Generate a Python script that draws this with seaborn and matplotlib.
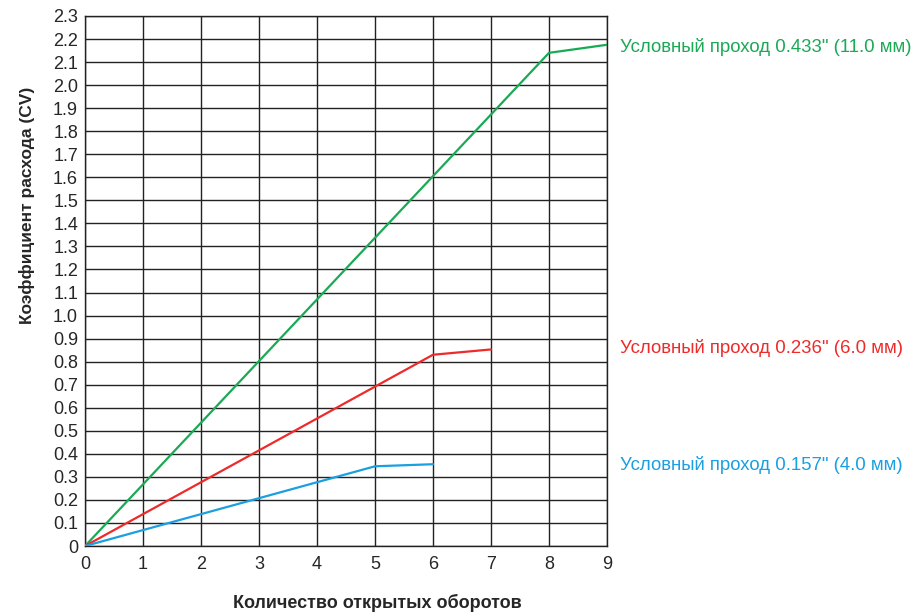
import numpy as np
import pandas as pd
import matplotlib
matplotlib.use("Agg")
import matplotlib.pyplot as plt
import seaborn as sns

# Данные
turns_11 = [0, 8, 9]
cv_11 = [0, 2.14, 2.175]
turns_6 = [0, 6, 7]
cv_6 = [0, 0.83, 0.853]
turns_4 = [0, 5, 6]
cv_4 = [0, 0.346, 0.355]

labels = [
    'Условный проход 0.433" (11.0 мм)',
    'Условный проход 0.236" (6.0 мм)',
    'Условный проход 0.157" (4.0 мм)',
]
colors = ["#1aa955", "#ee2a2a", "#1a9fe0"]

sns.set_style("white")
plt.rcParams["font.family"] = ["Liberation Sans", "DejaVu Sans"]

df = pd.concat([
    pd.DataFrame({"x": turns_11, "y": cv_11, "s": labels[0]}),
    pd.DataFrame({"x": turns_6, "y": cv_6, "s": labels[1]}),
    pd.DataFrame({"x": turns_4, "y": cv_4, "s": labels[2]}),
])

fig = plt.figure(figsize=(9.15, 6.14), dpi=100)
ax = fig.add_axes([0.0929, 0.1107, 0.5705, 0.8633])

sns.lineplot(data=df, x="x", y="y", hue="s", palette=dict(zip(labels, colors)),
             legend=False, linewidth=1.6, ax=ax, zorder=3)

ax.set_xlim(0, 9)
ax.set_ylim(0, 2.3)
ax.set_xticks(range(0, 10))
yt = np.round(np.arange(0, 2.31, 0.1), 1)
ax.set_yticks(yt)
ax.set_yticklabels(["0"] + [f"{v:.1f}" for v in yt[1:]])
ax.grid(True, color="#222222", linewidth=1.0)
for s in ax.spines.values():
    s.set_color("#222222")
    s.set_linewidth(1.0)
ax.tick_params(axis="both", labelsize=13, length=0)
ax.tick_params(axis="y", pad=5)
ax.tick_params(axis="x", pad=7)

ax.set_xlabel("Количество открытых оборотов", fontsize=13, fontweight="bold")
ax.set_ylabel("Коэффициент расхода (CV)", fontsize=12.5, fontweight="bold")
ax.xaxis.set_label_coords(0.561, -0.09)
ax.yaxis.set_label_coords(-0.096, 0.643)

# подписи серий справа
last_vals = [cv_11[-1], cv_6[-1], cv_4[-1]]
offsets = [-0.01, 0.006, -0.003]
for lab, c, v, o in zip(labels, colors, last_vals, offsets):
    ax.text(9.22, v + o, lab, color=c, fontsize=13.4, va="center", ha="left", clip_on=False)

fig.savefig("out.png", dpi=100)
